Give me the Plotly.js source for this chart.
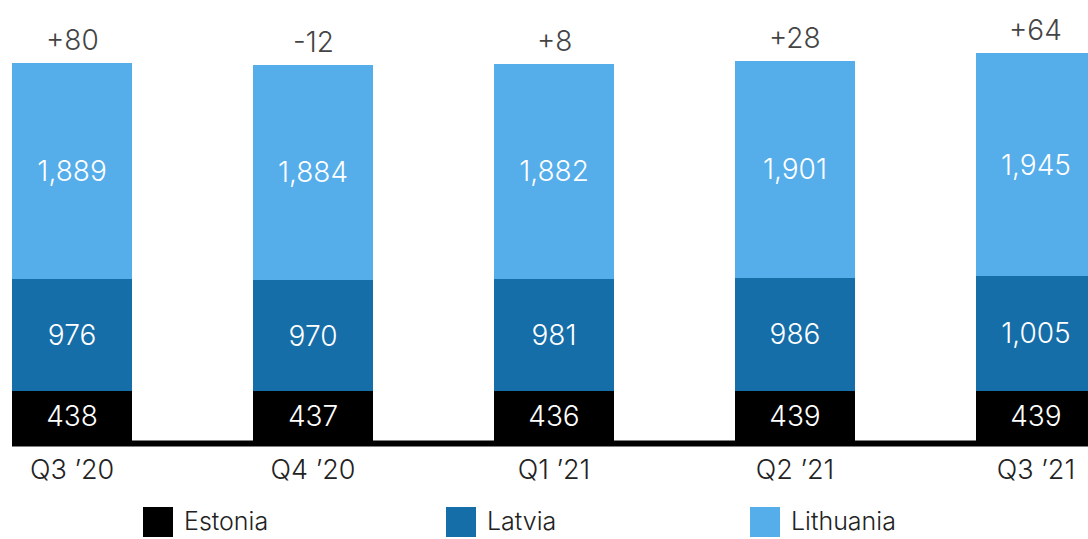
<!DOCTYPE html>
<html>
<head>
<meta charset="utf-8">
<script src="https://cdn.plot.ly/plotly-3.0.1.min.js"></script>
<style>html,body{margin:0;padding:0;background:#fff;}#chart{width:1088px;height:539px;}</style>
</head>
<body>
<div id="chart"></div>
<script>
const quarters = ["Q3 '20", "Q4 '20", "Q1 '21", "Q2 '21", "Q3 '21"];
const quarterLabels = ["Q3 ’20", "Q4 ’20", "Q1 ’21", "Q2 ’21", "Q3 ’21"];
const estonia = [438, 437, 436, 439, 439];
const latvia = [976, 970, 981, 986, 1005];
const lithuania = [1889, 1884, 1882, 1901, 1945];
const changes = ["+80", "-12", "+8", "+28", "+64"];
const seriesNames = ["Estonia", "Latvia", "Lithuania"];
const colors = ["#000000", "#166ea9", "#55adea"];

const FONT = "Inter, 'Open Sans', sans-serif";
const WEIGHT = 300;
const fmt = v => v.toLocaleString("en-US");
const seriesData = [estonia, latvia, lithuania];

const traces = seriesData.map((vals, i) => ({
  type: "bar",
  name: seriesNames[i],
  x: quarters,
  y: vals,
  width: 0.5,
  marker: {color: colors[i], line: {width: 0}},
  text: vals.map(fmt),
  textposition: "inside",
  insidetextanchor: "middle",
  constraintext: "none",
  textfont: {family: FONT, size: 28, color: "#ffffff", weight: WEIGHT},
  hoverinfo: "skip",
  showlegend: false
}));

const totals = quarters.map((q, i) => estonia[i] + latvia[i] + lithuania[i]);
const annotations = quarters.map((q, i) => ({
  x: q, y: totals[i], xref: "x", yref: "y",
  text: changes[i], showarrow: false, yanchor: "bottom", yshift: 4,
  font: {family: FONT, size: 28, color: "#444444", weight: WEIGHT}
}));

const W = 1088, H = 441;
const legX = [143, 446, 750];
const shapes = [{
  type: "line", xref: "paper", yref: "paper", x0: 12 / W, x1: 1, y0: -2.5 / H, y1: -2.5 / H,
  line: {color: "#000000", width: 6}
}];
seriesNames.forEach((n, i) => {
  shapes.push({
    type: "rect", xref: "paper", yref: "paper",
    x0: legX[i] / W, x1: (legX[i] + 30) / W,
    y0: (H - 537) / H, y1: (H - 507) / H,
    fillcolor: colors[i], line: {width: 0}
  });
  annotations.push({
    xref: "paper", yref: "paper", x: (legX[i] + 39) / W, y: (H - 521) / H,
    xanchor: "left", yanchor: "middle", text: n, showarrow: false,
    font: {family: FONT, size: 25, color: "#222222", weight: WEIGHT}
  });
});

const layout = {
  width: 1088, height: 539,
  margin: {l: 0, r: 0, t: 0, b: 98},
  barmode: "stack",
  paper_bgcolor: "#ffffff", plot_bgcolor: "#ffffff",
  xaxis: {
    type: "category", range: [-0.299, 4.216],
    tickvals: quarters, ticktext: quarterLabels,
    showgrid: false, zeroline: false, showline: false,
    ticks: "outside", ticklen: 5, tickcolor: "rgba(0,0,0,0)",
    tickfont: {family: FONT, size: 27, color: "#222222", weight: WEIGHT}
  },
  yaxis: {range: [0, 3855], visible: false, showgrid: false, zeroline: false},
  showlegend: false,
  annotations: annotations,
  shapes: shapes
};

Plotly.newPlot("chart", traces, layout, {displayModeBar: false, staticPlot: true});
</script>
</body>
</html>
